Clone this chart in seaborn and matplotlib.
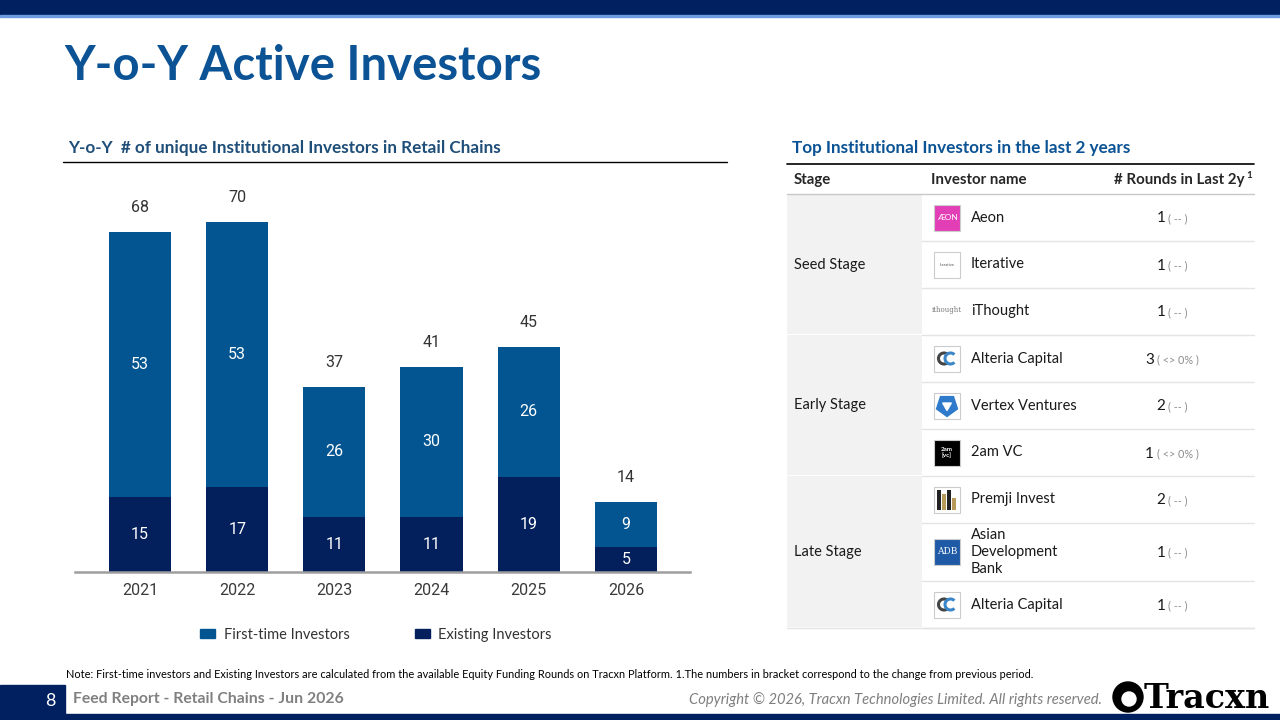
import pandas as pd
import matplotlib.pyplot as plt
import matplotlib.patches as patches
from matplotlib.patches import Patch
import seaborn as sns

# chart data
years = ["2021", "2022", "2023", "2024", "2025", "2026"]
first_time = [53, 53, 26, 30, 26, 9]
existing = [15, 17, 11, 11, 19, 5]

# table data
stages = ["Seed Stage", "Early Stage", "Late Stage"]
stage_sizes = [3, 3, 3]
investors = ["Aeon", "Iterative", "iThought", "Alteria Capital", "Vertex Ventures",
             "2am VC", "Premji Invest", "Asian\nDevelopment\nBank", "Alteria Capital"]
logos = ["aeon", "iterative", "ithought", "alteria", "vertex", "2am", "premji", "adb", "alteria"]
rounds = [1, 1, 1, 3, 2, 1, 2, 1, 1]
changes = ["( -- )", "( -- )", "( -- )", "( <> 0% )", "( -- )",
           "( <> 0% )", "( -- )", "( -- )", "( -- )"]

NAVY = "#002060"
FIRST = "#035592"
EXIST = "#03205C"
TITLE = "#0B5394"

sns.set_theme(style="white")
plt.rcParams["font.family"] = ["Lato", "DejaVu Sans"]

fig = plt.figure(figsize=(12.8, 7.2), dpi=100)

# background axes in pixel coordinates for the page furniture
bg = fig.add_axes([0, 0, 1, 1])
bg.set_xlim(0, 1280)
bg.set_ylim(720, 0)
bg.axis("off")
bg.patch.set_alpha(0)

# top bar
bg.add_patch(patches.Rectangle((0, 0), 1280, 15, color=NAVY))
bg.add_patch(patches.Rectangle((0, 15), 1280, 2, color="#6C9BE0"))

bg.text(64, 80, "Y-o-Y Active Investors", fontsize=34, fontweight="bold",
        color=TITLE, va="baseline")

bg.text(68, 153, "Y-o-Y  # of unique Institutional Investors in Retail Chains",
        fontsize=12.3, fontweight="bold", color="#1F4E79", va="baseline")
bg.plot([63, 727], [162, 162], color="black", lw=1)

bg.text(792, 153, "Top Institutional Investors in the last 2 years",
        fontsize=12.3, fontweight="bold", color=TITLE, va="baseline")
bg.plot([787, 1254], [164, 164], color="black", lw=1.2)

# ---- stacked bar chart ----
df = pd.DataFrame({"year": years, "first": first_time, "existing": existing})
df["total"] = df["first"] + df["existing"]

ax = fig.add_axes([75 / 1280, (720 - 572) / 720, (690 - 75) / 1280, (572 - 180) / 720])
sns.barplot(data=df, x="year", y="total", color=FIRST, saturation=1, width=0.64,
            linewidth=0, ax=ax)
sns.barplot(data=df, x="year", y="existing", color=EXIST, saturation=1, width=0.64,
            linewidth=0, ax=ax)
ax.set_xlim(-0.67, 5.66)
ax.set_ylim(0, 78.4)
ax.patch.set_alpha(0)
for s in ["top", "right", "left"]:
    ax.spines[s].set_visible(False)
ax.spines["bottom"].set_color("#9E9E9E")
ax.spines["bottom"].set_linewidth(1.8)
ax.set_yticks([])
ax.set_xlabel("")
ax.set_ylabel("")
ax.tick_params(axis="x", length=0, pad=8, labelsize=11.5, labelcolor="#3A3A3A")
for lbl in ax.get_xticklabels():
    lbl.set_family("Roboto")

for i, row in df.iterrows():
    ax.text(i, row["existing"] / 2, str(row["existing"]), ha="center", va="center",
            color="white", fontsize=11.5, family="Roboto")
    ax.text(i, row["existing"] + row["first"] / 2, str(row["first"]), ha="center",
            va="center", color="white", fontsize=11.5, family="Roboto")
    ax.annotate(str(row["total"]), (i, row["total"]), xytext=(0, 17.5),
                textcoords="offset points", ha="center", va="center",
                color="#333333", fontsize=11.5, family="Roboto")

fig.legend(handles=[Patch(color=FIRST, label="First-time Investors"),
                    Patch(color=EXIST, label="Existing Investors")],
           loc="center", bbox_to_anchor=(376 / 1280, 1 - 635 / 720), ncol=2,
           frameon=False, handlelength=1.0, handleheight=0.6, handletextpad=0.6,
           columnspacing=4.5, fontsize=10.5, labelcolor="#333333")

# ---- table ----
bg.text(794, 180, "Stage", fontsize=10.8, fontweight="bold", va="center")
bg.text(931, 180, "Investor name", fontsize=10.8, fontweight="bold", va="center")
bg.text(1245, 180, "# Rounds in Last 2y", fontsize=10.8, fontweight="bold",
        va="center", ha="right")
bg.text(1246, 175, "1", fontsize=7, fontweight="bold", va="center")
bg.plot([787, 1254], [193.5, 193.5], color="#C8C8C8", lw=1)

row_h = [47, 47, 47, 47, 47, 47, 47, 58, 47]
tops = [194]
for h in row_h:
    tops.append(tops[-1] + h)

# stage column
start = 0
for st, n in zip(stages, stage_sizes):
    y0, y1 = tops[start], tops[start + n]
    bg.add_patch(patches.Rectangle((787, y0), 135, y1 - y0 - 1.5, color="#F2F2F2", lw=0))
    bg.text(794, (y0 + y1) / 2, st, fontsize=10.5, va="center", color="#1a1a1a")
    start += n

for y in tops[1:]:
    bg.plot([922, 1254], [y, y], color="#E4E4E4", lw=1)
bg.plot([787, 1254], [tops[-1], tops[-1]], color="#E4E4E4", lw=1)


def draw_logo(kind, x, cy):
    s = 26
    y = cy - s / 2
    if kind == "aeon":
        bg.add_patch(patches.Rectangle((x, y), s, s, facecolor="#E23FB6", edgecolor="#cccccc", lw=0.8))
        bg.text(x + s / 2, cy, "ÆON", color="white", fontsize=6, ha="center", va="center")
    elif kind == "iterative":
        bg.add_patch(patches.Rectangle((x, y), s, s, facecolor="white", edgecolor="#cccccc", lw=0.8))
        bg.text(x + s / 2, cy, "Iterative", color="#555555", fontsize=3, ha="center", va="center")
    elif kind == "ithought":
        bg.text(x + s / 2, cy - 2, "ithought", color="#777777", fontsize=5,
                ha="center", va="center", family="DejaVu Serif")
    elif kind == "alteria":
        bg.add_patch(patches.Rectangle((x, y), s, s, facecolor="white", edgecolor="#cccccc", lw=0.8))
        bg.add_patch(patches.Arc((x + 10, cy), 11, 11, theta1=45, theta2=315,
                                 color="#444444", lw=2.2))
        bg.add_patch(patches.Arc((x + 16.5, cy), 11, 11, theta1=45, theta2=315,
                                 color="#3A86C8", lw=2.2))
    elif kind == "vertex":
        bg.add_patch(patches.Rectangle((x, y), s, s, facecolor="white", edgecolor="#cccccc", lw=0.8))
        bg.add_patch(patches.RegularPolygon((x + s / 2, cy), 5, radius=11, color="#2F7ACB"))
        bg.add_patch(patches.RegularPolygon((x + s / 2, cy), 3, radius=5, color="white"))
    elif kind == "2am":
        bg.add_patch(patches.Rectangle((x, y), s, s, facecolor="black", edgecolor="#cccccc", lw=0.8))
        bg.text(x + s / 2, cy, "2am\n[vc]", color="white", fontsize=4.5, ha="center",
                va="center", fontweight="bold", linespacing=1.0)
    elif kind == "premji":
        bg.add_patch(patches.Rectangle((x, y), s, s, facecolor="white", edgecolor="#cccccc", lw=0.8))
        for k, (hh, c) in enumerate([(20, "#222222"), (16, "#B89A5A"), (20, "#222222"), (12, "#B89A5A")]):
            bg.add_patch(patches.Rectangle((x + 3 + k * 5, y + 23 - hh), 4, hh, color=c, lw=0))
    elif kind == "adb":
        bg.add_patch(patches.Rectangle((x, y), s, s, facecolor="#1E5AA5", edgecolor="#cccccc", lw=0.8))
        bg.text(x + s / 2, cy, "ADB", color="white", fontsize=6.5, ha="center",
                va="center", family="DejaVu Serif")


fig.canvas.draw()
renderer = fig.canvas.get_renderer()
for i, (name, logo, r, ch) in enumerate(zip(investors, logos, rounds, changes)):
    cy = (tops[i] + tops[i + 1]) / 2
    draw_logo(logo, 934, cy)
    bg.text(971, cy, name, fontsize=10.5, va="center", color="#1a1a1a", linespacing=1.25)
    t1 = bg.text(0, cy + 5, str(r), fontsize=11, va="baseline", color="#1a1a1a")
    t2 = bg.text(0, cy + 4.5, ch, fontsize=7.8, va="baseline", color="#8C8C8C")
    w1 = t1.get_window_extent(renderer).width
    w2 = t2.get_window_extent(renderer).width
    x0 = 1172 - (w1 + 3 + w2) / 2
    t1.set_x(x0)
    t2.set_x(x0 + w1 + 3)

# ---- footer ----
bg.text(66, 674, "Note: First-time investors and Existing Investors are calculated from the "
        "available Equity Funding Rounds on Tracxn Platform. 1.The numbers in bracket "
        "correspond to the change from previous period.", fontsize=7.9, va="center",
        color="black")
bg.add_patch(patches.Rectangle((0, 685), 65, 35, color=NAVY))
bg.add_patch(patches.Rectangle((0, 714), 1280, 6, color=NAVY))
bg.text(50, 701, "8", fontsize=13, color="white", ha="center", va="center")
bg.text(73, 699, "Feed Report - Retail Chains - Jun 2026", fontsize=11.3,
        fontweight="bold", color="#808080", va="center")
bg.text(1102, 700, "Copyright © 2026, Tracxn Technologies Limited. All rights reserved.",
        fontsize=10.6, style="italic", color="#7F7F7F", ha="right", va="center")
bg.add_patch(patches.Circle((1128, 697), 15, color="black"))
bg.add_patch(patches.Circle((1129, 699), 7, color="white"))
bg.text(1144, 698, "Tracxn", fontsize=24, fontweight="bold", family="DejaVu Serif",
        va="center", color="black")

fig.savefig("out.png", dpi=100)
